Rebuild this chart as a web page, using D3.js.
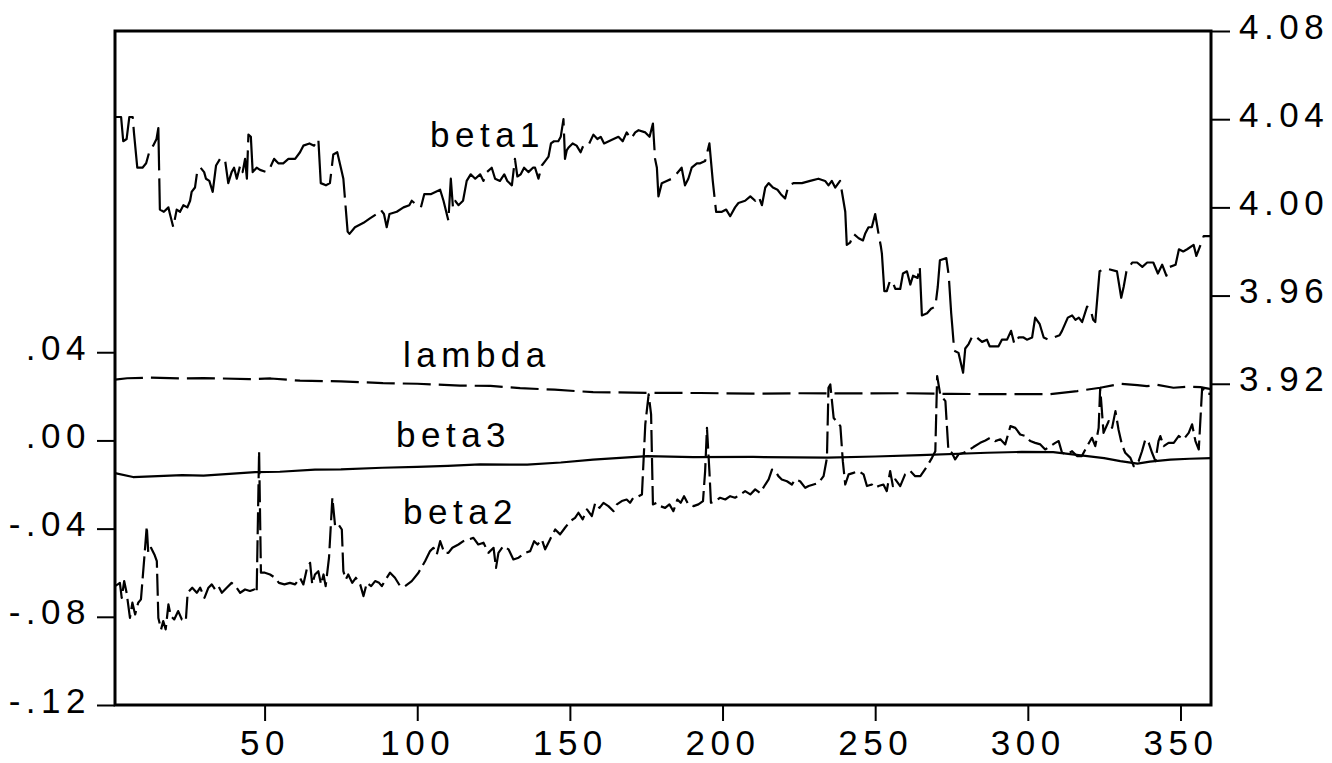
<!DOCTYPE html>
<html>
<head>
<meta charset="utf-8">
<script src="https://cdn.jsdelivr.net/npm/d3@7"></script>
<style>
  body { margin: 0; background: #fff; }
  svg { display: block; font-family: "Liberation Sans", Arial, sans-serif; }
</style>
</head>
<body>
<div id="chart"></div>
<script>
// tick values
const xTickValues = [50, 100, 150, 200, 250, 300, 350];
const leftTickValues = [-0.12, -0.08, -0.04, 0.00, 0.04];
const rightTickValues = [3.92, 3.96, 4.00, 4.04, 4.08];

// series names
const seriesNames = ["beta1", "lambda", "beta3", "beta2"];

// beta1 (right axis) as [observation, value]
const beta1 = [[1,4.041],[3,4.041],[3.7,4.030],[4.8,4.031],[5.7,4.041],[6.8,4.041],[7.2,4.034],[8.3,4.018],[10,4.018],[11.2,4.020],[12.2,4.025],[13.5,4.028],[14.6,4.031],[15.2,4.036],[15.7,3.999],[17,3.998],[18.5,4.000],[19,3.997],[20.1,3.991],[21.2,3.999],[22.3,3.998],[23.4,4.001],[24.7,4.000],[25.6,4.003],[26.1,4.007],[27.2,4.009],[28,4.017],[29,4.018],[30.2,4.016],[30.8,4.013],[31.9,4.012],[33,4.007],[34.1,4.019],[35.4,4.022],[37,4.022],[38.1,4.011],[39.2,4.016],[40,4.018],[40.9,4.013],[42,4.019],[42.8,4.016],[43.6,4.022],[44.2,4.013],[44.7,4.033],[45.5,4.032],[46.1,4.016],[47.4,4.018],[48.5,4.017],[50.7,4.016],[51.8,4.018],[53.1,4.022],[54.5,4.020],[56.1,4.020],[57.8,4.022],[60,4.022],[61.6,4.025],[62.7,4.028],[64.7,4.029],[66.2,4.028],[67.6,4.031],[68.4,4.011],[70.1,4.010],[71.4,4.011],[72.5,4.024],[73.8,4.025],[75.3,4.016],[75.8,4.013],[77.2,3.989],[77.8,3.988],[79.6,3.991],[82.4,3.993],[84.5,3.995],[86.7,3.997],[88,3.999],[89.1,3.997],[90,3.991],[90.9,3.997],[93.3,3.998],[95.5,4.000],[97.4,4.001],[98.2,4.003],[99.9,4.001],[101.2,4.000],[102.3,4.006],[104.4,4.006],[107.5,4.008],[108.6,4.003],[110.2,3.994],[111,4.013],[111.7,4.000],[112.4,4.003],[113.5,4.001],[115,4.003],[116.2,4.012],[117.5,4.015],[119,4.013],[120.6,4.015],[121.7,4.012],[122.8,4.016],[124.4,4.018],[125.5,4.013],[127.1,4.012],[128.5,4.015],[129.5,4.012],[131,4.010],[132,4.022],[132.8,4.014],[133.9,4.015],[135,4.018],[136.4,4.016],[137.9,4.018],[138.6,4.018],[139.7,4.013],[140.8,4.019],[141.9,4.021],[143,4.023],[143.8,4.029],[144.8,4.030],[146.2,4.030],[147,4.032],[147.9,4.040],[148.4,4.022],[149,4.026],[149.5,4.027],[150.9,4.029],[152.2,4.028],[153.5,4.025],[154.4,4.028],[156,4.028],[157.7,4.033],[159,4.031],[160.1,4.032],[161.2,4.029],[164.3,4.031],[165.9,4.032],[167.3,4.030],[168.6,4.034],[170,4.031],[171.4,4.034],[172.5,4.035],[174.7,4.034],[176.1,4.032],[177.2,4.038],[177.9,4.022],[178.5,4.018],[179,4.005],[180.1,4.011],[181.7,4.012],[183.4,4.013],[184.8,4.015],[186.6,4.018],[187.7,4.010],[188.8,4.013],[189.9,4.018],[191.6,4.020],[192.7,4.020],[194.3,4.021],[195.7,4.029],[196.8,4.012],[197.9,3.998],[199.8,3.998],[201.2,3.999],[202.5,3.996],[204.1,4.000],[205.2,4.002],[207.4,4.003],[209.1,4.005],[210.7,4.003],[211.8,4.005],[212.9,4.001],[214,4.009],[215.1,4.011],[216.5,4.009],[218,4.008],[219.1,4.006],[220.5,4.004],[221.6,4.010],[223.2,4.011],[226,4.011],[228.7,4.012],[231.4,4.013],[233.6,4.012],[234.7,4.010],[235.8,4.012],[236.9,4.009],[238.5,4.012],[239.6,4.003],[240.2,3.998],[240.7,3.983],[241.8,3.984],[242.9,3.988],[244.6,3.986],[246,3.985],[246.7,3.988],[247.8,3.991],[248.9,3.991],[250,3.997],[251.1,3.988],[251.9,3.982],[252.2,3.979],[253,3.962],[253.8,3.962],[254.9,3.967],[255.8,3.966],[256.6,3.963],[258.2,3.963],[259.1,3.970],[260.4,3.971],[261.5,3.965],[262.4,3.969],[263.9,3.968],[264.6,3.973],[265.3,3.951],[267,3.952],[268.3,3.954],[269.7,3.955],[270.5,3.964],[271.2,3.976],[273.3,3.977],[274.1,3.969],[274.9,3.952],[275.2,3.947],[275.9,3.935],[277.3,3.934],[278.8,3.925],[279.5,3.936],[280.6,3.938],[282,3.942],[283.3,3.941],[285,3.939],[286.6,3.940],[287.5,3.937],[288.8,3.937],[290.4,3.937],[291.5,3.940],[293.2,3.940],[294.5,3.944],[295.6,3.938],[297,3.941],[298.6,3.941],[299.7,3.940],[301.4,3.941],[302.4,3.950],[303.9,3.947],[305.2,3.941],[306.8,3.940],[308.5,3.941],[310.4,3.942],[311.2,3.944],[313.1,3.950],[314.5,3.951],[315.6,3.949],[316.7,3.950],[317.8,3.948],[319.4,3.955],[320.5,3.954],[321.4,3.949],[322.1,3.948],[323.5,3.971],[324.9,3.972],[326.5,3.972],[329.2,3.971],[330.6,3.959],[331.4,3.964],[332.3,3.971],[334.2,3.975],[335.8,3.975],[337.5,3.973],[339.1,3.975],[341.1,3.975],[342.6,3.970],[344,3.974],[345.4,3.969],[346.5,3.973],[348.4,3.974],[349.5,3.981],[350.9,3.980],[352.2,3.981],[354.3,3.983],[355.2,3.978],[356.3,3.982],[357.6,3.987],[359.2,3.987],[360,3.987]];

// lambda (left axis)
const lambda = [[1,0.0276],[5,0.0282],[12.5,0.0285],[22,0.0281],[30,0.0283],[45,0.0278],[52,0.0281],[61.6,0.0271],[75,0.0268],[88.8,0.0260],[100,0.0257],[114,0.0249],[124,0.0247],[133.7,0.0237],[145,0.0230],[157.6,0.0219],[175,0.0216],[192.7,0.0215],[210,0.0212],[225,0.0214],[241.8,0.0213],[260,0.0214],[275,0.0211],[291,0.0210],[307.4,0.0210],[316.2,0.0224],[323.7,0.0239],[330.3,0.0257],[335.9,0.0251],[339,0.0246],[342.4,0.0252],[347.7,0.0239],[352,0.0243],[356.5,0.0242],[360,0.0233]];

// beta3 (left axis)
const beta3 = [[1,-0.0148],[6.9,-0.0166],[15,-0.0162],[23,-0.0157],[30,-0.0160],[46.9,-0.0144],[55,-0.0142],[66.5,-0.0132],[75,-0.0131],[88.5,-0.0124],[100,-0.0120],[110,-0.0115],[120.6,-0.0109],[136,-0.0110],[147,-0.0100],[157.6,-0.0087],[175.3,-0.0071],[190.4,-0.0076],[210,-0.0075],[234.3,-0.0078],[250,-0.0073],[264.8,-0.0067],[286.7,-0.0056],[298,-0.0052],[308.3,-0.0053],[319.5,-0.0071],[325,-0.0080],[330.3,-0.0094],[335.9,-0.0105],[340,-0.0096],[346.7,-0.0087],[353,-0.0083],[360,-0.0080]];

// beta2 (left axis)
const beta2 = [[1,-0.0660],[1.9,-0.0653],[2.6,-0.0646],[3.2,-0.0714],[4,-0.0638],[4.8,-0.0691],[5.9,-0.0805],[6.7,-0.0736],[7.6,-0.0789],[8.6,-0.0736],[9.5,-0.0721],[10.6,-0.0532],[11.4,-0.0389],[11.9,-0.0510],[12.8,-0.0487],[13.9,-0.0517],[14.7,-0.0547],[15.2,-0.0805],[16.1,-0.0857],[16.8,-0.0819],[17.6,-0.0857],[18.5,-0.0744],[19.3,-0.0797],[20.4,-0.0812],[21.7,-0.0774],[22.9,-0.0812],[24.2,-0.0819],[24.8,-0.0691],[26.3,-0.0668],[27.8,-0.0691],[28.9,-0.0668],[30.3,-0.0714],[31.6,-0.0668],[32.7,-0.0653],[33.8,-0.0676],[34.9,-0.0661],[36,-0.0691],[37.6,-0.0668],[39.2,-0.0646],[40.5,-0.0661],[42,-0.0691],[43.6,-0.0676],[45.2,-0.0683],[46.6,-0.0676],[47.4,-0.0691],[48.2,-0.0049],[48.8,-0.0600],[50.1,-0.0600],[51.8,-0.0608],[53.4,-0.0623],[54.7,-0.0646],[56.5,-0.0653],[58.3,-0.0646],[60,-0.0653],[61.6,-0.0623],[62.7,-0.0653],[63.8,-0.0585],[64.9,-0.0555],[65.6,-0.0653],[66.5,-0.0608],[67.6,-0.0593],[68.5,-0.0653],[69.3,-0.0608],[70,-0.0661],[71.1,-0.0532],[72.2,-0.0260],[73.1,-0.0389],[74.2,-0.0381],[75.3,-0.0404],[75.8,-0.0593],[76.6,-0.0630],[77.4,-0.0608],[78.7,-0.0646],[79.9,-0.0623],[81.3,-0.0653],[82.4,-0.0706],[83.5,-0.0646],[84.9,-0.0661],[86.2,-0.0638],[87.5,-0.0646],[88.4,-0.0661],[89.7,-0.0630],[91.1,-0.0600],[92.7,-0.0623],[94.4,-0.0661],[96,-0.0661],[98.2,-0.0638],[100.4,-0.0600],[102.6,-0.0547],[104.2,-0.0502],[105.3,-0.0487],[106.4,-0.0517],[107.5,-0.0457],[108.9,-0.0510],[110.2,-0.0510],[111.5,-0.0487],[113.5,-0.0472],[115.1,-0.0457],[116.8,-0.0449],[118.4,-0.0442],[120,-0.0472],[121.7,-0.0464],[123.3,-0.0510],[125,-0.0487],[125.8,-0.0578],[126.6,-0.0510],[128.2,-0.0479],[129.9,-0.0494],[131.5,-0.0540],[133.2,-0.0532],[135.3,-0.0510],[137,-0.0502],[138.3,-0.0457],[139.4,-0.0472],[140.8,-0.0449],[141.9,-0.0494],[143.5,-0.0449],[145.2,-0.0404],[146.8,-0.0426],[148.4,-0.0396],[150.1,-0.0366],[151.7,-0.0351],[152.8,-0.0328],[154.2,-0.0358],[155.6,-0.0313],[157.2,-0.0343],[158.3,-0.0283],[159.7,-0.0306],[161,-0.0283],[162.6,-0.0298],[164.3,-0.0321],[165.4,-0.0290],[167,-0.0275],[168.6,-0.0268],[169.7,-0.0283],[170.8,-0.0260],[172.5,-0.0253],[173.6,-0.0245],[174.7,0.0073],[175.8,0.0209],[176.6,0.0118],[177.2,-0.0290],[178.5,-0.0283],[179.6,-0.0298],[181.2,-0.0306],[182.6,-0.0290],[183.9,-0.0321],[185.2,-0.0268],[186.3,-0.0283],[187.4,-0.0253],[188.8,-0.0290],[190.5,-0.0298],[192.1,-0.0290],[193.6,-0.0275],[194.3,-0.0139],[194.9,0.0057],[195.7,-0.0139],[196.2,-0.0283],[197.6,-0.0275],[199.2,-0.0260],[200.9,-0.0268],[202.5,-0.0253],[204.1,-0.0260],[205.8,-0.0245],[207.4,-0.0230],[209.1,-0.0245],[210.7,-0.0222],[212.3,-0.0238],[214,-0.0200],[215.1,-0.0177],[216.2,-0.0132],[217.3,-0.0139],[218.3,-0.0162],[219.4,-0.0177],[221.1,-0.0185],[222.7,-0.0200],[223.8,-0.0177],[225.4,-0.0185],[227.1,-0.0215],[228.2,-0.0207],[229.8,-0.0200],[231.5,-0.0192],[233.1,-0.0162],[234.2,-0.0079],[234.7,0.0239],[235.3,0.0254],[236.4,0.0102],[238.6,0.0065],[239.4,-0.0094],[240.2,-0.0200],[241.3,-0.0154],[242.9,-0.0147],[244.6,-0.0139],[246.2,-0.0154],[247.3,-0.0207],[248.9,-0.0200],[250,-0.0215],[251.1,-0.0207],[252.7,-0.0200],[253.8,-0.0230],[254.9,-0.0139],[255.8,-0.0207],[256.6,-0.0177],[258.2,-0.0207],[259.8,-0.0154],[261.5,-0.0139],[263.1,-0.0162],[264.8,-0.0162],[267,-0.0117],[268.6,-0.0079],[269.7,-0.0049],[270.3,0.0292],[271.3,0.0209],[273,0.0178],[274,-0.0049],[275.1,-0.0056],[276.2,-0.0086],[277.3,-0.0063],[279,-0.0056],[280.6,-0.0045],[282.2,-0.0030],[284.4,-0.0011],[286.1,0.0000],[287.7,0.0012],[289.3,-0.0003],[291,0.0005],[292.6,-0.0018],[294.3,0.0065],[295.9,0.0057],[297.5,0.0027],[299.2,0.0020],[300.8,-0.0003],[302.4,-0.0011],[304.1,-0.0018],[305.7,-0.0041],[307.4,-0.0026],[309,-0.0011],[310.1,-0.0003],[311.2,-0.0056],[312.8,-0.0063],[314.5,-0.0049],[316.1,-0.0071],[317.7,-0.0071],[319.4,-0.0026],[321,0.0012],[322.1,-0.0026],[323.2,0.0057],[323.7,0.0239],[324.8,0.0034],[326.5,0.0088],[327.6,0.0057],[328.7,0.0133],[329.7,0.0050],[330.8,-0.0018],[331.9,-0.0056],[333.6,-0.0079],[334.7,-0.0117],[336.3,-0.0094],[337.4,-0.0049],[338.5,0.0005],[339.6,-0.0011],[340.7,-0.0056],[341.8,-0.0094],[342.8,-0.0003],[343.4,0.0020],[344.5,-0.0026],[346.1,-0.0011],[347.8,-0.0011],[349.4,0.0020],[351,0.0005],[352.7,0.0034],[353.8,0.0073],[354.9,-0.0003],[356,-0.0041],[357.1,0.0239],[358.2,0.0215],[360,0.0210]];

const width = 1332, height = 763;
const frame = { left: 115, right: 1211, top: 31, bottom: 705 };
const fontSize = 35;
const letterSpacing = "5.5px";

const svg = d3.select("#chart").append("svg")
    .attr("width", width)
    .attr("height", height)
    .style("background", "#fff");

const x = d3.scaleLinear().domain([1, 360]).range([frame.left, frame.right]);
const yLeft = d3.scaleLinear().domain([-0.12, 0.1857]).range([frame.bottom, frame.top]);
const yRight = d3.scaleLinear().domain([3.7743, 4.08]).range([frame.bottom, frame.top]);

const leftFormat = d => {
    const s = String(Math.round(Math.abs(d) * 100)).padStart(2, "0");
    return (d < -1e-9 ? "-" : "") + "." + s;
};

function styleAxis(g) {
    g.attr("font-size", fontSize).attr("font-family", null);
    g.select(".domain").remove();
    g.selectAll(".tick line").attr("stroke", "#000").attr("stroke-width", 2);
    g.selectAll(".tick text").attr("fill", "#000").style("letter-spacing", letterSpacing);
}

svg.append("g")
    .attr("transform", `translate(0,${frame.bottom})`)
    .call(d3.axisBottom(x).tickValues(xTickValues).tickSize(16).tickPadding(9).tickFormat(d3.format("d")))
    .call(styleAxis);

svg.append("g")
    .attr("transform", `translate(${frame.left},0)`)
    .call(d3.axisLeft(yLeft).tickValues(leftTickValues).tickSize(18).tickPadding(6).tickFormat(leftFormat))
    .call(styleAxis)
    .call(g => g.selectAll(".tick text").attr("dy", "0.2em"));

svg.append("g")
    .attr("transform", `translate(${frame.right},0)`)
    .call(d3.axisRight(yRight).tickValues(rightTickValues).tickSize(19).tickPadding(9).tickFormat(d3.format(".2f")))
    .call(styleAxis)
    .call(g => g.selectAll(".tick text").attr("dy", "0.2em"));

// lines
const lineLeft = d3.line().x(d => x(d[0])).y(d => yLeft(d[1]));
const lineRight = d3.line().x(d => x(d[0])).y(d => yRight(d[1]));

const series = [
    { name: "beta1", data: beta1, line: lineRight, dash: "62,8" },
    { name: "lambda", data: lambda, line: lineLeft, dash: "28,8" },
    { name: "beta3", data: beta3, line: lineLeft, dash: null },
    { name: "beta2", data: beta2, line: lineLeft, dash: "22,6" }
];

series.forEach(s => {
    svg.append("path")
        .datum(s.data)
        .attr("fill", "none")
        .attr("stroke", "#000")
        .attr("stroke-width", 2.2)
        .attr("stroke-linejoin", "round")
        .attr("stroke-dasharray", s.dash)
        .attr("d", s.line);
});

// series labels inside the plot
const labelPos = {
    beta1: [430, 147],
    lambda: [403, 367],
    beta3: [396, 447],
    beta2: [403, 524]
};

seriesNames.forEach(name => {
    svg.append("text")
        .attr("x", labelPos[name][0])
        .attr("y", labelPos[name][1])
        .attr("font-size", fontSize)
        .style("letter-spacing", letterSpacing)
        .attr("fill", "#000")
        .text(name);
});

// frame
svg.append("rect")
    .attr("x", frame.left)
    .attr("y", frame.top)
    .attr("width", frame.right - frame.left)
    .attr("height", frame.bottom - frame.top)
    .attr("fill", "none")
    .attr("stroke", "#000")
    .attr("stroke-width", 3);
</script>
</body>
</html>
